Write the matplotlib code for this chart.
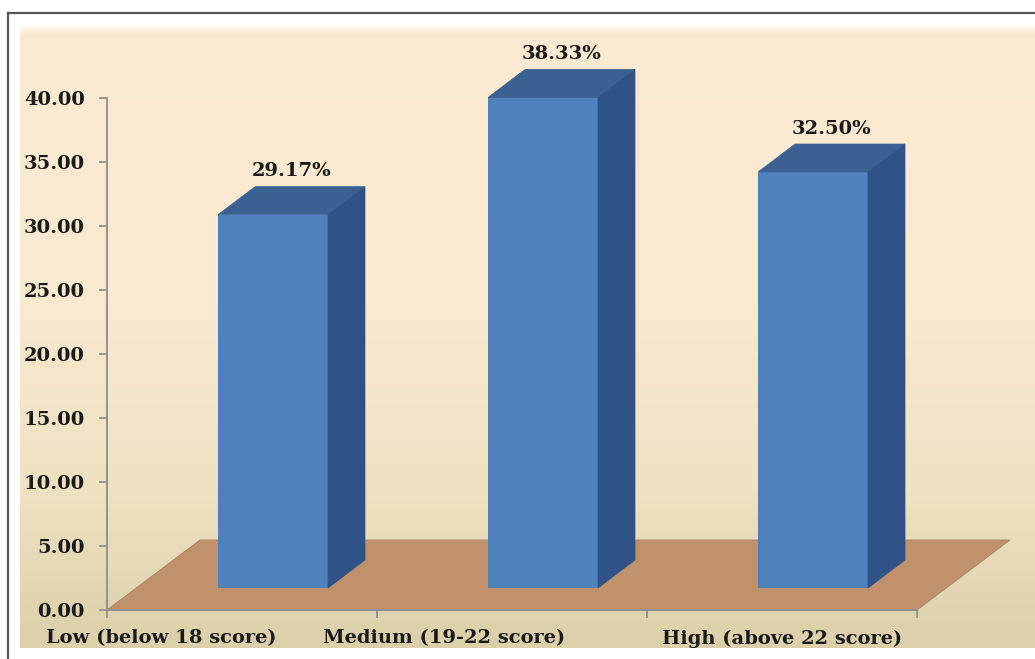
import numpy as np
import matplotlib
matplotlib.use("Agg")
import matplotlib.pyplot as plt
from matplotlib.patches import Polygon
from matplotlib.lines import Line2D
from matplotlib.colors import LinearSegmentedColormap

# ---- data ----
categories = ["Low (below 18 score)", "Medium (19-22 score)", "High (above 22 score)"]
values = [29.17, 38.33, 32.50]
value_labels = ["29.17%", "38.33%", "32.50%"]
yticks = [0, 5, 10, 15, 20, 25, 30, 35, 40]

# ---- layout (pixels of the 1035x659 canvas) ----
W, H = 1035, 659
PX_X = 270.0          # pixels per category
PX_Y = 12.8           # pixels per value unit
bar_offset = 0.615    # front-face centre inside category
bar_width = 0.407
bar_base = 22 / PX_Y  # front base lifted above the floor front edge
dx_bar, dy_bar = 37 / PX_X, 28 / PX_Y
dx_floor, dy_floor = 93 / PX_X, 70 / PX_Y
label_pos = [0.20, 1.25, 2.50]

FRONT = "#4F81BD"
TOP = "#3B6193"
SIDE = "#2F5386"
FLOOR = "#C1916C"
AXIS = "#8C8C8C"
TXT = "#1A1A1A"
FS = 14

plt.rcParams["font.family"] = ["DejaVu Serif"]
plt.rcParams["font.weight"] = "bold"

fig = plt.figure(figsize=(W / 100, H / 100), dpi=100)

# background gradient panel
bg = fig.add_axes([20 / W, (H - 648) / H, (W - 20) / W, (648 - 22) / H], zorder=-5)
cmap = LinearSegmentedColormap.from_list(
    "bg", [(0, "#FFFFFF"), (0.015, "#FCEBD3"), (0.45, "#F9E9CF"), (0.75, "#EEE2C2"), (1, "#DCD0AA")])
grad = np.linspace(0, 1, 400).reshape(-1, 1)
bg.imshow(grad, aspect="auto", cmap=cmap, extent=[0, 1, 0, 1], origin="upper")
bg.axis("off")

# outer frame
fig.add_artist(Line2D([8 / W, 8 / W], [0, 1 - 13 / H], color="#555555", lw=1.6))
fig.add_artist(Line2D([8 / W, 1], [1 - 13 / H, 1 - 13 / H], color="#555555", lw=1.6))

ax = fig.add_axes([107 / W, (H - 610) / H, (W - 107) / W, 512 / H])
ax.patch.set_alpha(0)
ax.set_xlim(0, (W - 107) / PX_X)
ax.set_ylim(0, 40)

n = len(categories)
# floor
floor = Polygon([(0, 0), (n, 0), (n + dx_floor, dy_floor), (dx_floor, dy_floor)],
                closed=True, facecolor=FLOOR, edgecolor="#A88060", lw=0.6, zorder=1)
ax.add_patch(floor)

xs = np.arange(n) + bar_offset
bars = ax.bar(xs, values, width=bar_width, bottom=bar_base, color=FRONT, zorder=3)
for b in bars:
    b.set_clip_on(False)
for x, v, lab in zip(xs, values, value_labels):
    x0, x1 = x - bar_width / 2, x + bar_width / 2
    ytop = bar_base + v
    ax.add_patch(Polygon([(x0, ytop), (x1, ytop), (x1 + dx_bar, ytop + dy_bar), (x0 + dx_bar, ytop + dy_bar)],
                         closed=True, facecolor=TOP, edgecolor=TOP, lw=0.5, zorder=3, clip_on=False))
    ax.add_patch(Polygon([(x1, bar_base), (x1, ytop), (x1 + dx_bar, ytop + dy_bar), (x1 + dx_bar, bar_base + dy_bar)],
                         closed=True, facecolor=SIDE, edgecolor=SIDE, lw=0.5, zorder=3, clip_on=False))
    ax.text(x + dx_bar / 2, ytop + dy_bar + 1.2, lab, ha="center", va="center",
            fontsize=FS, fontweight="bold", color=TXT, clip_on=False)

# axes styling
for s in ["top", "right"]:
    ax.spines[s].set_visible(False)
ax.spines["left"].set_color(AXIS)
ax.spines["bottom"].set_color(AXIS)
ax.spines["left"].set_linewidth(1.3)
ax.spines["bottom"].set_linewidth(1.3)
ax.spines["left"].set_bounds(0, 40)
ax.spines["bottom"].set_bounds(0, n)
ax.spines["bottom"].set_zorder(2)

ax.set_yticks(yticks)
ax.set_yticklabels([f"{t:.2f}" for t in yticks])
ax.tick_params(axis="y", direction="out", length=6, width=1.2, color=AXIS, pad=10,
               labelsize=FS, labelcolor=TXT)

ax.set_xticks(label_pos)
ax.set_xticklabels(categories)
ax.set_xticks(np.arange(n + 1), minor=True)
ax.tick_params(axis="x", which="major", length=0, pad=14, labelsize=FS, labelcolor=TXT)
ax.tick_params(axis="x", which="minor", direction="out", length=6, width=1.2, color=AXIS)

fig.savefig("out.png", dpi=100)
